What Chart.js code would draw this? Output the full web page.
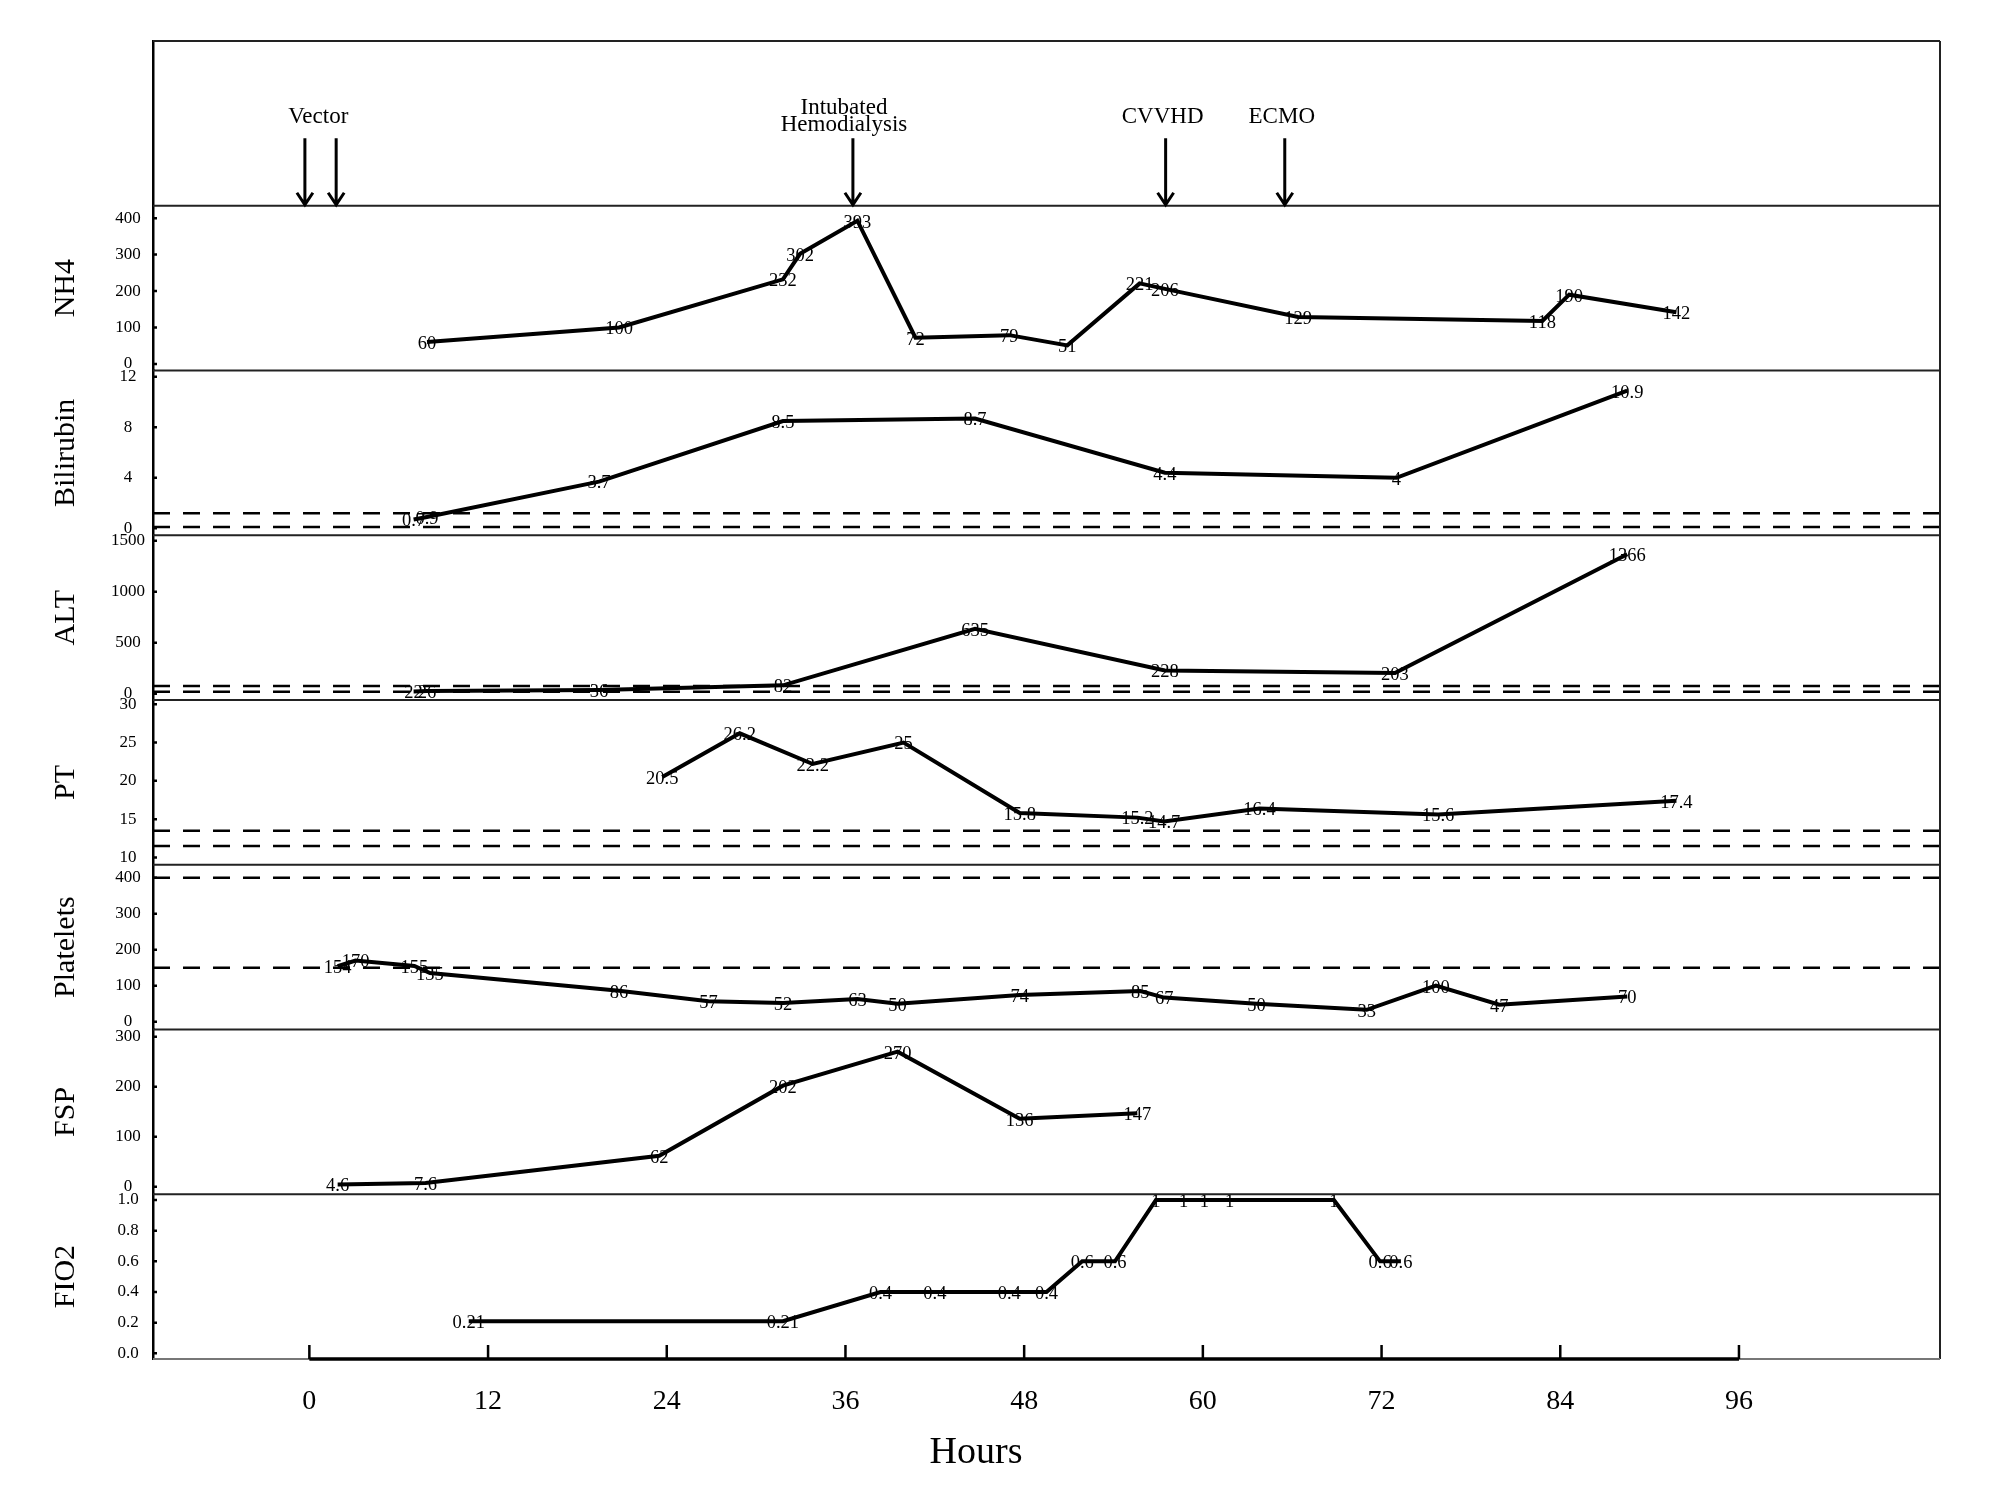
<!DOCTYPE html>
<html>
<head>
<meta charset="utf-8">
<script src="https://cdn.jsdelivr.net/npm/chart.js@4.4.1/dist/chart.umd.min.js"></script>
<style>
  html, body { margin: 0; padding: 0; background: #fff; }
  #wrap { width: 2002px; height: 1486px; }
</style>
</head>
<body>
<div id="wrap"><canvas id="labs" width="2002" height="1486"></canvas></div>
<script>
  // hours after vector infusion
  const hourTicks = [0, 12, 24, 36, 48, 60, 72, 84, 96];

  const arrowHours = [-0.3, 1.8, 36.5, 57.5, 65.5];
  const eventHours = [0.6, 35.9, 57.3, 65.3];
  const eventLabels = [['Vector'], ['Intubated', 'Hemodialysis'], ['CVVHD'], ['ECMO']];

  const nh4Hours = [7.9, 20.8, 31.8, 32.95, 36.8, 40.7, 47.0, 50.9, 55.75, 57.45, 66.4, 82.8, 84.6, 91.8];
  const nh4Values = [60, 100, 232, 302, 393, 72, 79, 51, 221, 206, 129, 118, 190, 142];
  const nh4Ticks = [0, 100, 200, 300, 400];

  const biliHours = [7.0, 7.9, 19.45, 31.8, 44.7, 57.45, 73.0, 88.5];
  const biliValues = [0.7, 0.9, 3.7, 8.5, 8.7, 4.4, 4, 10.9];
  const biliRefs = [0.1, 1.2];
  const biliTicks = [0, 4, 8, 12];

  const altHours = [7.0, 7.9, 19.45, 31.8, 44.7, 57.45, 72.9, 88.5];
  const altValues = [22, 26, 36, 82, 635, 228, 203, 1366];
  const altRefs = [20, 75];
  const altTicks = [0, 500, 1000, 1500];

  const ptHours = [23.7, 28.9, 33.8, 39.9, 47.7, 55.6, 57.4, 63.8, 75.8, 91.8];
  const ptValues = [20.5, 26.2, 22.2, 25, 15.8, 15.2, 14.7, 16.4, 15.6, 17.4];
  const ptRefs = [11.5, 13.5];
  const ptTicks = [10, 15, 20, 25, 30];

  const pltHours = [1.9, 3.1, 7.05, 8.1, 20.8, 26.8, 31.8, 36.8, 39.5, 47.7, 55.8, 57.4, 63.6, 71.0, 75.65, 79.9, 88.5];
  const pltValues = [154, 170, 155, 135, 86, 57, 52, 63, 50, 74, 85, 67, 50, 33, 100, 47, 70];
  const pltRefs = [150, 400];
  const pltTicks = [0, 100, 200, 300, 400];

  const fspHours = [1.9, 7.8, 23.5, 31.8, 39.5, 47.7, 55.6];
  const fspValues = [4.6, 7.6, 62, 202, 270, 136, 147];
  const fspTicks = [0, 100, 200, 300];

  const fioHours = [10.7, 31.8, 38.35, 42.0, 47.0, 49.5, 51.9, 54.1, 56.85, 58.7, 60.1, 61.8, 68.8, 71.9, 73.3];
  const fioValues = [0.21, 0.21, 0.4, 0.4, 0.4, 0.4, 0.6, 0.6, 1, 1, 1, 1, 1, 0.6, 0.6];
  const fioTicks = [0, 0.2, 0.4, 0.6, 0.8, 1.0];

  const X_MIN = -10.5, X_MAX = 109.5;
  const SERIF = '"Liberation Serif", "DejaVu Serif", serif';
  const TICK_FONT = 17;
  const TICK_CENTER = 25;   // distance from axis line to centre of tick labels

  // panels from top to bottom
  const panels = [
    { id: 'yNH4', title: 'NH4', hours: nh4Hours, values: nh4Values, refs: [], ticks: nh4Ticks, min: -18, max: 434, dp: 0 },
    { id: 'yBili', title: 'Bilirubin', hours: biliHours, values: biliValues, refs: biliRefs, ticks: biliTicks, min: -0.55, max: 12.5, dp: 0 },
    { id: 'yALT', title: 'ALT', hours: altHours, values: altValues, refs: altRefs, ticks: altTicks, min: -62, max: 1553, dp: 0 },
    { id: 'yPT', title: 'PT', hours: ptHours, values: ptValues, refs: ptRefs, ticks: ptTicks, min: 9.05, max: 30.55, dp: 0 },
    { id: 'yPlt', title: 'Platelets', hours: pltHours, values: pltValues, refs: pltRefs, ticks: pltTicks, min: -21.7, max: 436, dp: 0 },
    { id: 'yFSP', title: 'FSP', hours: fspHours, values: fspValues, refs: [], ticks: fspTicks, min: -15.1, max: 314.4, dp: 0 },
    { id: 'yFIO', title: 'FIO2', hours: fioHours, values: fioValues, refs: [], ticks: fioTicks, min: -0.037, max: 1.0375, dp: 1 }
  ];

  // tick labels sit centred in a column, so the padding depends on the widest label
  const measure = document.createElement('canvas').getContext('2d');
  measure.font = TICK_FONT + 'px ' + SERIF;
  function tickPadding(p) {
    const widest = Math.max(...p.ticks.map(v => measure.measureText(v.toFixed(p.dp)).width));
    return TICK_CENTER - widest / 2;
  }

  const datasets = [];
  panels.forEach(p => {
    p.refs.forEach(r => {
      datasets.push({
        data: [{ x: X_MIN, y: r }, { x: X_MAX, y: r }],
        yAxisID: p.id,
        borderColor: '#000',
        borderWidth: 2.5,
        borderDash: [17, 13],
        pointRadius: 0
      });
    });
    datasets.push({
      data: p.hours.map((h, i) => ({ x: h, y: p.values[i] })),
      yAxisID: p.id,
      borderColor: '#000',
      borderWidth: 4,
      pointRadius: 0,
      tension: 0,
      showValues: true
    });
  });

  const scales = {
    x: {
      type: 'linear',
      position: 'bottom',
      min: X_MIN,
      max: X_MAX,
      afterBuildTicks: s => { s.ticks = hourTicks.map(v => ({ value: v })); },
      afterFit: s => { s.height = 127; },
      grid: { display: false, drawTicks: false },
      border: { display: false },
      ticks: { color: '#000', font: { family: SERIF, size: 28 }, padding: 26, autoSkip: false, maxRotation: 0 }
    },
    yEvents: {
      type: 'linear',
      position: 'left',
      stack: 'panels',
      stackWeight: 1,
      weight: panels.length + 1,
      min: 0,
      max: 1,
      afterFit: s => { s.width = 153; },
      grid: { display: false, drawTicks: false },
      border: { display: true, color: '#000', width: 2.5 },
      ticks: { display: false }
    }
  };
  panels.forEach((p, i) => {
    scales[p.id] = {
      type: 'linear',
      position: 'left',
      stack: 'panels',
      stackWeight: 1,
      weight: panels.length - i,
      min: p.min,
      max: p.max,
      afterBuildTicks: s => { s.ticks = p.ticks.map(v => ({ value: v })); },
      afterFit: s => { s.width = 153; },
      grid: { display: false, drawTicks: false },
      border: { display: true, color: '#000', width: 2.5 },
      ticks: {
        color: '#000',
        font: { family: SERIF, size: TICK_FONT },
        padding: tickPadding(p),
        crossAlign: 'center',
        autoSkip: false,
        callback: v => Number(v).toFixed(p.dp)
      },
      title: { display: true, text: p.title, color: '#000', font: { family: SERIF, size: 30 }, padding: { top: 48, bottom: 0 } }
    };
  });

  // panel frames, inward tick marks, the bold 0-96 h axis and its title
  const frames = {
    id: 'frames',
    afterDraw(chart) {
      const { ctx, chartArea: a } = chart;
      const xs = chart.scales.x;
      ctx.save();
      ctx.strokeStyle = '#222';
      ctx.lineWidth = 2;
      ctx.beginPath();
      ['yEvents'].concat(panels.map(p => p.id)).forEach(id => {
        const s = chart.scales[id];
        ctx.moveTo(a.left, s.top);
        ctx.lineTo(a.right, s.top);
      });
      ctx.moveTo(a.right, a.top);
      ctx.lineTo(a.right, a.bottom);
      ctx.stroke();

      ctx.strokeStyle = '#777';
      ctx.beginPath();
      ctx.moveTo(a.left, a.bottom);
      ctx.lineTo(a.right, a.bottom);
      ctx.stroke();

      ctx.strokeStyle = '#000';
      ctx.lineWidth = 3.5;
      ctx.beginPath();
      ctx.moveTo(xs.getPixelForValue(hourTicks[0]), a.bottom);
      ctx.lineTo(xs.getPixelForValue(hourTicks[hourTicks.length - 1]), a.bottom);
      ctx.stroke();

      ctx.lineWidth = 2.5;
      ctx.beginPath();
      hourTicks.forEach(h => {
        const px = xs.getPixelForValue(h);
        ctx.moveTo(px, a.bottom);
        ctx.lineTo(px, a.bottom - 14);
      });
      panels.forEach(p => {
        const s = chart.scales[p.id];
        p.ticks.forEach(v => {
          const py = s.getPixelForValue(v);
          ctx.moveTo(a.left, py);
          ctx.lineTo(a.left + 4, py);
        });
      });
      ctx.stroke();

      // axis title sits left of the plot centre in the original
      ctx.fillStyle = '#000';
      ctx.font = '38px ' + SERIF;
      ctx.textAlign = 'center';
      ctx.textBaseline = 'middle';
      ctx.fillText('Hours', 976, 1453);
      ctx.restore();
    }
  };

  // event arrows in the top panel
  const events = {
    id: 'events',
    afterDraw(chart) {
      const { ctx } = chart;
      const xs = chart.scales.x, ev = chart.scales.yEvents;
      ctx.save();
      ctx.strokeStyle = '#000';
      ctx.lineWidth = 3;
      arrowHours.forEach(h => {
        const px = xs.getPixelForValue(h);
        const y0 = ev.getPixelForValue(0.41);
        const y1 = ev.getPixelForValue(0) - 1;
        ctx.beginPath();
        ctx.moveTo(px, y0);
        ctx.lineTo(px, y1);
        ctx.moveTo(px - 8, y1 - 12);
        ctx.lineTo(px, y1);
        ctx.lineTo(px + 8, y1 - 12);
        ctx.stroke();
      });
      ctx.fillStyle = '#000';
      ctx.font = '23px ' + SERIF;
      ctx.textAlign = 'center';
      ctx.textBaseline = 'middle';
      eventHours.forEach((h, i) => {
        const lines = eventLabels[i];
        const px = xs.getPixelForValue(h);
        const cy = ev.getPixelForValue(0.54);
        lines.forEach((t, k) => {
          ctx.fillText(t, px, cy + (k - (lines.length - 1) / 2) * 17);
        });
      });
      ctx.restore();
    }
  };

  // value printed on every data point
  const valueLabels = {
    id: 'valueLabels',
    afterDatasetsDraw(chart) {
      const { ctx } = chart;
      ctx.save();
      ctx.fillStyle = '#000';
      ctx.font = '18.5px ' + SERIF;
      ctx.textAlign = 'center';
      ctx.textBaseline = 'middle';
      chart.data.datasets.forEach((ds, i) => {
        if (!ds.showValues) return;
        chart.getDatasetMeta(i).data.forEach((pt, j) => {
          ctx.fillText(String(ds.data[j].y), pt.x, pt.y + 2);
        });
      });
      ctx.restore();
    }
  };

  new Chart(document.getElementById('labs'), {
    type: 'line',
    data: { datasets },
    options: {
      responsive: false,
      devicePixelRatio: 1,
      animation: false,
      layout: { padding: { left: 0, right: 62, top: 41, bottom: 0 } },
      plugins: { legend: { display: false }, tooltip: { enabled: false } },
      scales
    },
    plugins: [frames, events, valueLabels]
  });
</script>
</body>
</html>
